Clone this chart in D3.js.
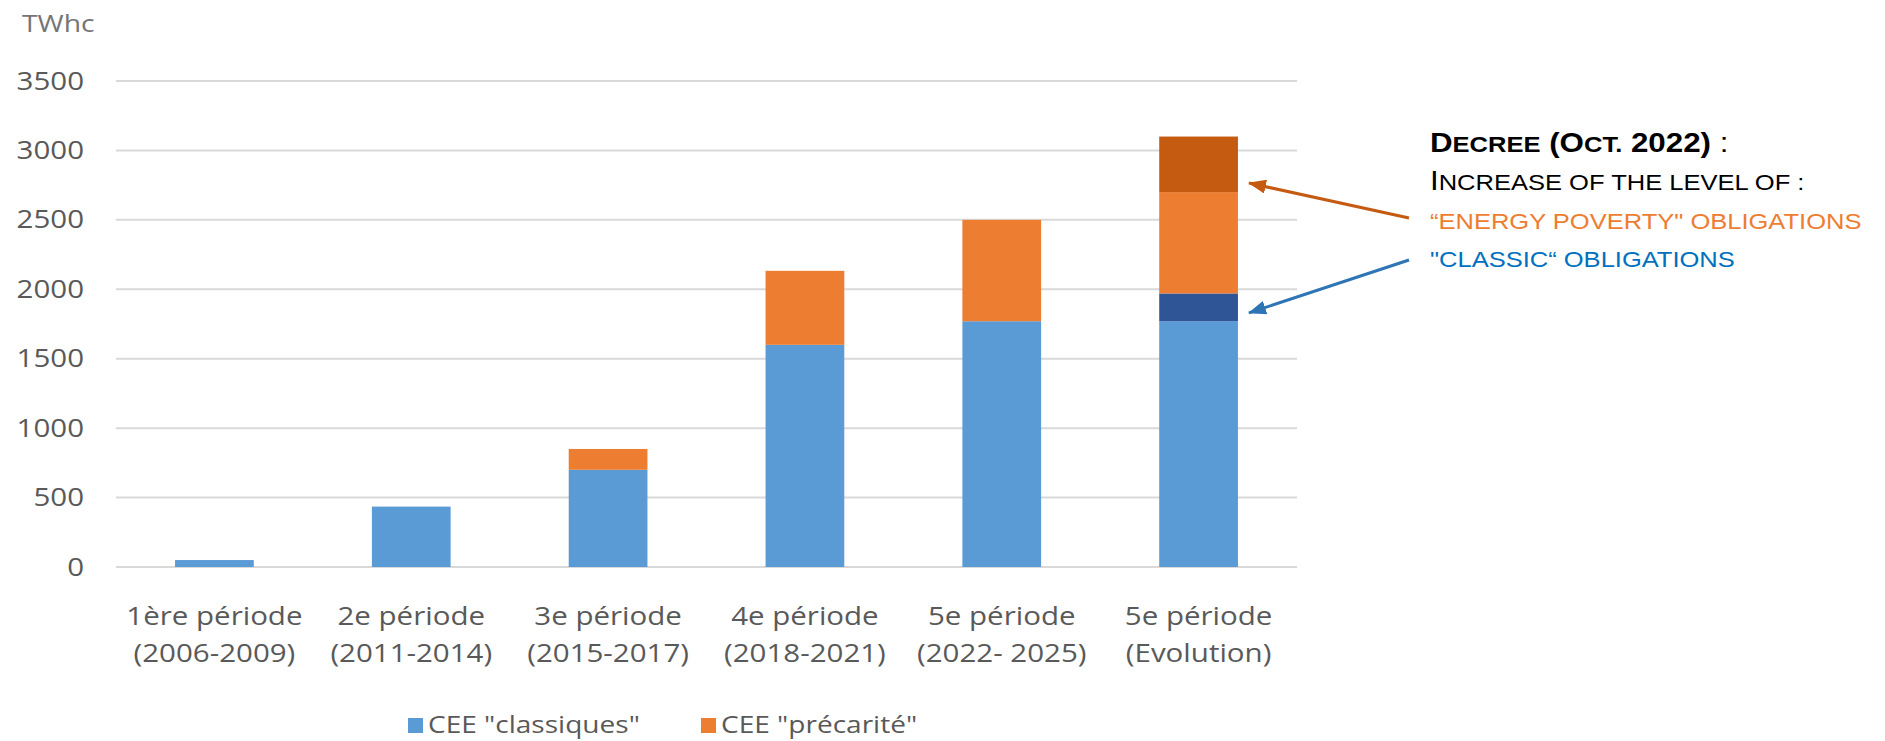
<!DOCTYPE html>
<html>
<head>
<meta charset="utf-8">
<script src="https://d3js.org/d3.v7.min.js"></script>
<style>
  body { margin: 0; background: #fff; }
  text { font-family: "Open Sans", sans-serif; }
  text.note { font-family: "Liberation Sans", Arial, sans-serif; }
</style>
</head>
<body>
<script>
// categories (two text lines each)
var periodes = ["1ère période", "2e période", "3e période", "4e période", "5e période", "5e période"];
var annees   = ["(2006-2009)", "(2011-2014)", "(2015-2017)", "(2018-2021)", "(2022- 2025)", "(Evolution)"];

// series values, TWhc
var classiques       = [50, 435, 700, 1600, 1770, 1770];
var hausseClassiques = [0, 0, 0, 0, 0, 200];
var precarite        = [0, 0, 150, 533, 730, 730];
var haussePrecarite  = [0, 0, 0, 0, 0, 400];

var yTicks = [0, 500, 1000, 1500, 2000, 2500, 3000, 3500];

var W = 1885, H = 741;
var margin = {top: 81, left: 116, right: W - 1297, bottom: H - 567};
var width = W - margin.left - margin.right,
    height = H - margin.top - margin.bottom;
var stretch = 1.18; // source picture text is wide

var svg = d3.select("body").append("svg")
    .attr("width", W).attr("height", H);

var g = svg.append("g")
    .attr("transform", "translate(" + margin.left + "," + margin.top + ")");

var x = d3.scaleBand().domain(d3.range(periodes.length)).range([0, width]).paddingInner(0.6).paddingOuter(0.3);
var y = d3.scaleLinear().domain([0, 3500]).range([height, 0]);

// gridlines
g.selectAll(".grid").data(yTicks).enter().append("line")
    .attr("x1", 0).attr("x2", width)
    .attr("y1", function(d) { return y(d); })
    .attr("y2", function(d) { return y(d); })
    .style("stroke", "#d9d9d9").style("stroke-width", 2);

// y axis
var yAxis = g.append("g").call(d3.axisLeft(y).tickValues(yTicks).tickFormat(d3.format("d")).tickSize(0).tickPadding(32));
yAxis.select(".domain").remove();
yAxis.selectAll("text")
    .style("font-size", "25px").style("fill", "#595959")
    .attr("transform", "scale(" + stretch + ",1)")
    .attr("x", -32 / stretch);

svg.append("text").attr("x", 22).attr("y", 32)
    .attr("transform", "translate(22,0) scale(" + stretch + ",1) translate(-22,0)")
    .style("font-size", "24px").style("fill", "#757575").text("TWhc");

// stacked bars
var rows = periodes.map(function(p, i) {
  return {i: i, classiques: classiques[i], hausseClassiques: hausseClassiques[i],
          precarite: precarite[i], haussePrecarite: haussePrecarite[i]};
});
var keys = ["classiques", "hausseClassiques", "precarite", "haussePrecarite"];
var colors = {classiques: "#5b9bd5", hausseClassiques: "#2f5597", precarite: "#ed7d31", haussePrecarite: "#c55a11"};
var series = d3.stack().keys(keys)(rows);

g.selectAll(".serie").data(series).enter().append("g")
    .style("fill", function(d) { return colors[d.key]; })
  .selectAll("rect").data(function(d) { return d.filter(function(v) { return v[1] > v[0]; }); })
  .enter().append("rect")
    .attr("x", function(d) { return x(d.data.i); })
    .attr("width", x.bandwidth())
    .attr("y", function(d) { return y(d[1]); })
    .attr("height", function(d) { return y(d[0]) - y(d[1]); });

// x labels
var xl = g.append("g").attr("transform", "translate(0," + height + ")");
var lab = xl.selectAll("g").data(periodes).enter().append("g")
    .attr("transform", function(d, i) { return "translate(" + (x(i) + x.bandwidth() / 2) + ",0) scale(" + stretch + ",1)"; });
lab.append("text").attr("y", 58).attr("text-anchor", "middle")
    .style("font-size", "25px").style("fill", "#595959").text(function(d) { return d; });
lab.append("text").attr("y", 95).attr("text-anchor", "middle")
    .style("font-size", "25px").style("fill", "#595959").text(function(d, i) { return annees[i]; });

// legend
var legendItems = [{label: 'CEE "classiques"', color: colors.classiques, x: 408},
                   {label: 'CEE "précarité"', color: colors.precarite, x: 701}];
var leg = svg.selectAll(".leg").data(legendItems).enter().append("g")
    .attr("transform", function(d) { return "translate(" + d.x + ",718)"; });
leg.append("rect").attr("width", 15).attr("height", 15).style("fill", function(d) { return d.color; });
leg.append("text").attr("x", 20).attr("y", 15)
    .attr("transform", "translate(20,0) scale(1.22,1) translate(-20,0)")
    .style("font-size", "23px").style("fill", "#595959").text(function(d) { return d.label; });

// arrows
var defs = svg.append("defs");
[["arrOrange", "#c55a11"], ["arrBlue", "#2e75b6"]].forEach(function(m) {
  defs.append("marker").attr("id", m[0]).attr("markerUnits", "userSpaceOnUse")
      .attr("viewBox", "0 0 18 14").attr("refX", 17).attr("refY", 7)
      .attr("markerWidth", 18).attr("markerHeight", 14).attr("orient", "auto")
    .append("path").attr("d", "M0,0 L18,7 L0,14 Z").style("fill", m[1]);
});
var last = periodes.length - 1;
var tipX = margin.left + x(last) + x.bandwidth() + 11;
svg.append("line").attr("x1", 1409).attr("y1", 218)
    .attr("x2", tipX).attr("y2", margin.top + y(2765))
    .style("stroke", "#c55a11").style("stroke-width", 3).attr("marker-end", "url(#arrOrange)");
svg.append("line").attr("x1", 1409).attr("y1", 260)
    .attr("x2", tipX).attr("y2", margin.top + y(1830))
    .style("stroke", "#2e75b6").style("stroke-width", 3).attr("marker-end", "url(#arrBlue)");

// annotation text (small caps built by hand)
var big = 27, small = 22, ax = 1430;
var note = svg.append("g").attr("transform", "translate(" + ax + ",0) scale(1.16,1)");
function line(yy, parts, color) {
  var t = note.append("text").attr("class", "note").attr("x", 0).attr("y", yy).style("fill", color);
  parts.forEach(function(p) {
    t.append("tspan").style("font-size", (p[1] ? big : small) + "px")
      .style("font-weight", p[2] ? "bold" : "normal").text(p[0]);
  });
}
line(152, [["D", 1, 1], ["ECREE", 0, 1], [" (O", 1, 1], ["CT.", 0, 1], [" 2022)", 1, 1], [" :", 1, 0]], "#000");
line(190, [["I", 1], ["NCREASE OF THE LEVEL OF :", 0]], "#000");
line(229, [["“ENERGY POVERTY\" OBLIGATIONS", 0]], "#ed7d31");
line(267, [["\"CLASSIC“ OBLIGATIONS", 0]], "#0070c0");
</script>
</body>
</html>
